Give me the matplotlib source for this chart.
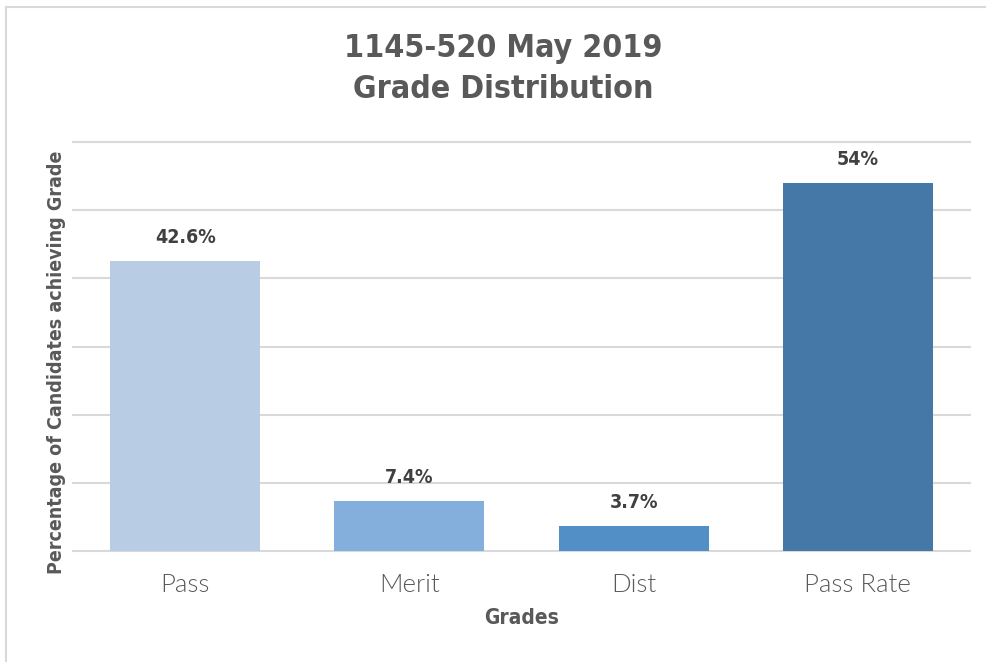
import matplotlib
matplotlib.use('Agg')
import matplotlib.pyplot as plt
from matplotlib.lines import Line2D

categories = ['Pass', 'Merit', 'Dist', 'Pass Rate']
values = [42.6, 7.4, 3.7, 54]
labels = ['42.6%', '7.4%', '3.7%', '54%']
colors = ['#B8CCE4', '#84AEDB', '#528FC7', '#4577A7']

bold_font = ['DejaVu Sans']
tick_font = ['Lato', 'DejaVu Sans']

fig = plt.figure(figsize=(9.87, 6.62), dpi=100)
ax = fig.add_axes([73/987, 1-551/662, 897/987, 409/662])

x = list(range(len(categories)))
ax.bar(x, values, width=0.67, color=colors, zorder=3)
for xi, v, lab in zip(x, values, labels):
    ax.text(xi, v + 2.0, lab, ha='center', va='bottom', fontsize=14,
            fontweight='bold', fontstretch='condensed', family=bold_font,
            color='#404040')

ax.set_xlim(-0.5, 3.5)
ax.set_ylim(0, 60)
ax.set_yticks(range(0, 61, 10))
ax.set_yticklabels([])
ax.tick_params(axis='y', length=0)
ax.tick_params(axis='x', length=0, pad=16)
ax.grid(axis='y', color='#D9D9D9', linewidth=1.5, zorder=0)
for gl in ax.get_ygridlines():
    gl.set_clip_on(False)
for s in ax.spines.values():
    s.set_visible(False)

ax.set_xticks(x)
ax.set_xticklabels(categories, fontsize=18.5, family=tick_font,
                   fontweight=300, color='#595959')

ax.set_xlabel('Grades', fontsize=15, fontweight='bold', fontstretch='condensed',
              family=bold_font, color='#595959', labelpad=8)
fig.text(57/987, 1-362/662, 'Percentage of Candidates achieving Grade',
         rotation=90, ha='center', va='center', fontsize=14,
         fontweight='bold', fontstretch='condensed', family=bold_font,
         color='#595959')

fig.text(503/987, 1-48/662, '1145-520 May 2019', ha='center', va='center',
         fontsize=23, fontweight='bold', fontstretch='condensed',
         family=bold_font, color='#595959')
fig.text(503/987, 1-89/662, 'Grade Distribution', ha='center', va='center',
         fontsize=23, fontweight='bold', fontstretch='condensed',
         family=bold_font, color='#595959')

# chart border
fig.add_artist(Line2D([6/987, 6/987], [0, 1-7/662], color='#D9D9D9', lw=1.5,
                      transform=fig.transFigure))
fig.add_artist(Line2D([6/987, 1], [1-7/662, 1-7/662], color='#D9D9D9', lw=1.5,
                      transform=fig.transFigure))

fig.savefig('out.png', dpi=100)
